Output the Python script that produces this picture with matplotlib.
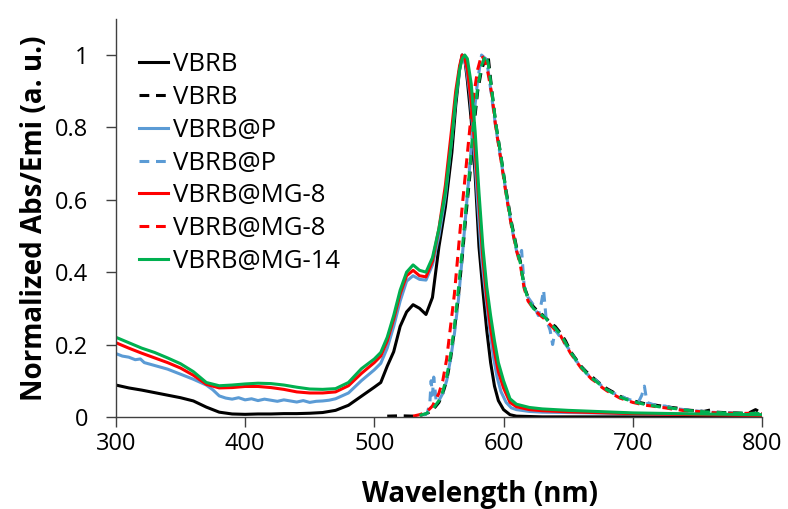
import numpy as np
import matplotlib
matplotlib.use("Agg")
import matplotlib.pyplot as plt

plt.rcParams['font.family'] = ['Open Sans', 'DejaVu Sans']

# absorption (solid lines), nm
abs_wl = [300, 310, 320, 330, 340, 350, 360, 370, 380, 390, 400, 410, 420, 430, 440,
          450, 460, 470, 480, 490, 500, 505, 510, 515, 520, 525, 530, 535, 540, 545,
          550, 555, 560, 563, 566, 568, 570, 572, 575, 578, 581, 584, 587, 590, 593,
          596, 600, 605, 610, 620, 630, 650, 700, 750, 800]
vbrb_abs = [0.088, 0.080, 0.074, 0.067, 0.060, 0.053, 0.044, 0.027, 0.013, 0.008, 0.007,
            0.008, 0.008, 0.009, 0.009, 0.010, 0.012, 0.018, 0.032, 0.057, 0.082, 0.095,
            0.14, 0.18, 0.25, 0.29, 0.31, 0.30, 0.283, 0.33, 0.47, 0.58, 0.73, 0.86, 0.96,
            1.0, 0.99, 0.93, 0.82, 0.67, 0.47, 0.35, 0.24, 0.15, 0.085, 0.045, 0.02, 0.006,
            0.002, 0.001, 0.0, 0.0, 0.0, 0.0, 0.0]
mg8_abs = [0.205, 0.190, 0.176, 0.163, 0.150, 0.135, 0.115, 0.090, 0.080, 0.081, 0.084,
           0.084, 0.081, 0.076, 0.069, 0.066, 0.066, 0.069, 0.086, 0.120, 0.150, 0.168,
           0.21, 0.27, 0.34, 0.39, 0.405, 0.39, 0.387, 0.43, 0.52, 0.64, 0.80, 0.90, 0.97,
           1.0, 0.99, 0.96, 0.87, 0.74, 0.59, 0.44, 0.33, 0.245, 0.18, 0.125, 0.08, 0.04,
           0.028, 0.02, 0.017, 0.014, 0.009, 0.006, 0.004]
mg14_abs = [0.220, 0.205, 0.190, 0.178, 0.163, 0.147, 0.125, 0.095, 0.086, 0.088, 0.091,
            0.093, 0.092, 0.088, 0.082, 0.077, 0.076, 0.078, 0.095, 0.133, 0.160, 0.178,
            0.22, 0.28, 0.35, 0.40, 0.42, 0.405, 0.40, 0.44, 0.52, 0.62, 0.77, 0.88, 0.96,
            0.99, 1.0, 0.99, 0.92, 0.79, 0.62, 0.47, 0.36, 0.28, 0.21, 0.15, 0.10, 0.05,
            0.035, 0.026, 0.022, 0.018, 0.011, 0.008, 0.006]

p_abs_wl = [300, 305, 310, 315, 319, 322, 330, 340, 350, 360, 370, 375, 380, 385, 390,
            395, 400, 405, 410, 415, 420, 425, 430, 435, 440, 445, 450, 455, 460, 465,
            470, 480, 490, 500, 505, 510, 515, 520, 525, 530, 535, 540, 545, 550, 555,
            560, 563, 566, 568, 571, 574, 577, 580, 583, 586, 589, 592, 595, 598, 602,
            606, 610, 620, 630, 650, 700, 750, 800]
p_abs = [0.175, 0.168, 0.165, 0.158, 0.160, 0.150, 0.142, 0.132, 0.118, 0.104, 0.088,
         0.075, 0.058, 0.052, 0.049, 0.053, 0.047, 0.050, 0.045, 0.049, 0.046, 0.043,
         0.047, 0.044, 0.041, 0.045, 0.040, 0.043, 0.044, 0.046, 0.050, 0.066, 0.100,
         0.130, 0.148, 0.19, 0.25, 0.32, 0.375, 0.39, 0.38, 0.378, 0.42, 0.50, 0.61,
         0.77, 0.88, 0.96, 1.0, 0.97, 0.89, 0.76, 0.59, 0.44, 0.34, 0.25, 0.17, 0.11,
         0.07, 0.04, 0.025, 0.02, 0.015, 0.013, 0.012, 0.009, 0.007, 0.006]

# emission (dashed lines)
em_wl = [510, 520, 530, 535, 540, 545, 550, 553, 556, 559, 562, 565, 568, 571, 574, 577,
         580, 583, 586, 588, 591, 594, 598, 602, 606, 610, 613, 616, 619, 623, 627, 632,
         636, 640, 644, 648, 652, 656, 660, 664, 668, 672, 676, 680, 685, 690, 695, 700,
         705, 710, 715, 720, 725, 730, 735, 740, 745, 750, 755, 760, 765, 770, 775, 780,
         785, 790, 795, 800]
nan = np.nan
vbrb_em = [0.002, 0.003, 0.002, 0.004, 0.008, 0.018, 0.04, 0.065, 0.10, 0.16, 0.24, 0.33,
           0.44, 0.56, 0.67, 0.80, 0.90, 0.96, 0.99, 1.0, 0.90, 0.81, 0.72, 0.625, 0.54,
           0.47, 0.43, 0.36, 0.33, 0.305, 0.29, 0.277, 0.26, 0.25, 0.232, 0.21, 0.18,
           0.16, 0.14, 0.125, 0.112, 0.10, 0.088, 0.078, 0.068, 0.057, 0.05, 0.045, 0.04,
           0.036, 0.034, 0.031, 0.029, 0.026, 0.024, 0.02, 0.018, 0.017, 0.015, 0.019,
           0.013, 0.012, 0.012, 0.011, 0.01, 0.011, 0.02, 0.01]
mg8_em = [nan, nan, 0.002, 0.006, 0.012, 0.03, 0.065, 0.10, 0.16, 0.25, 0.34, 0.46, 0.58,
          0.69, 0.80, 0.89, 0.96, 1.0, 0.98, 0.95, 0.89, 0.80, 0.71, 0.615, 0.53, 0.46,
          0.42, 0.355, 0.32, 0.30, 0.285, 0.27, 0.255, 0.24, 0.225, 0.20, 0.175, 0.155,
          0.135, 0.12, 0.105, 0.095, 0.082, 0.072, 0.062, 0.052, 0.046, 0.04, 0.036,
          0.032, 0.03, 0.027, 0.025, 0.022, 0.02, 0.017, 0.016, 0.015, 0.013, 0.012,
          0.011, 0.011, 0.01, 0.01, 0.009, 0.01, 0.009, 0.008]
mg14_em = [nan, nan, nan, 0.004, 0.009, 0.02, 0.045, 0.07, 0.11, 0.17, 0.25, 0.35, 0.46,
           0.58, 0.69, 0.82, 0.91, 0.97, 1.0, 0.98, 0.90, 0.81, 0.72, 0.62, 0.535, 0.465,
           0.425, 0.36, 0.325, 0.30, 0.288, 0.275, 0.258, 0.245, 0.228, 0.205, 0.178,
           0.158, 0.138, 0.122, 0.108, 0.097, 0.085, 0.075, 0.065, 0.055, 0.048, 0.043,
           0.038, 0.034, 0.031, 0.028, 0.026, 0.024, 0.022, 0.019, 0.017, 0.016, 0.014,
           0.013, 0.012, 0.011, 0.011, 0.01, 0.01, 0.009, 0.01, 0.008]

p_em_wl = [538, 541, 543, 544, 545, 546, 548, 550, 553, 556, 559, 562, 565, 568, 571, 574,
           577, 580, 583, 586, 588, 591, 594, 598, 602, 606, 610, 612, 614, 616, 619, 623,
           627, 629, 631, 633, 636, 638, 640, 644, 648, 652, 656, 660, 664, 668, 672, 676,
           680, 685, 690, 695, 700, 705, 707, 709, 711, 715, 720, 725, 730, 735, 740, 745,
           750, 755, 760, 765, 770, 775, 780, 785, 790, 795, 800]
p_em = [0.005, 0.01, 0.04, 0.10, 0.06, 0.11, 0.04, 0.045, 0.065, 0.10, 0.16, 0.23, 0.32,
        0.44, 0.57, 0.70, 0.83, 0.93, 1.0, 0.99, 0.96, 0.88, 0.80, 0.71, 0.62, 0.53, 0.46,
        0.44, 0.46, 0.36, 0.33, 0.31, 0.28, 0.31, 0.35, 0.27, 0.24, 0.20, 0.24, 0.22, 0.20,
        0.18, 0.155, 0.14, 0.12, 0.11, 0.10, 0.085, 0.075, 0.065, 0.06, 0.05, 0.045, 0.045,
        0.06, 0.085, 0.04, 0.035, 0.03, 0.03, 0.025, 0.022, 0.02, 0.018, 0.016, 0.015,
        0.013, 0.012, 0.011, 0.012, 0.01, 0.01, 0.009, 0.01, 0.008]

black, blue, red, green = '#000000', '#5B9BD5', '#FF0000', '#00B050'
dash = (0, (3.2, 2.2))
lw = 2.2

fig = plt.figure(figsize=(7.88, 5.09), dpi=100)
ax = fig.add_axes([0.147, 0.181, 0.82, 0.782])

ax.plot(abs_wl, vbrb_abs, color=black, lw=lw, label='VBRB')
ax.plot(em_wl, vbrb_em, color=black, lw=lw, ls=dash, label='VBRB')
ax.plot(p_abs_wl, p_abs, color=blue, lw=lw, label='VBRB@P')
ax.plot(p_em_wl, p_em, color=blue, lw=lw, ls=dash, label='VBRB@P')
ax.plot(abs_wl, mg8_abs, color=red, lw=lw, label='VBRB@MG-8')
ax.plot(em_wl, mg8_em, color=red, lw=lw, ls=dash, label='VBRB@MG-8')
ax.plot(abs_wl, mg14_abs, color=green, lw=lw, label='VBRB@MG-14')
ax.plot(em_wl, mg14_em, color=green, lw=lw, ls=dash, label='_nolegend_')

ax.set_xlim(300, 800)
ax.set_ylim(0, 1.1)
ax.set_xticks([300, 400, 500, 600, 700, 800])
ax.set_yticks([0, 0.2, 0.4, 0.6, 0.8, 1.0])
ax.set_yticklabels(['0', '0.2', '0.4', '0.6', '0.8', '1'])
for s in ['top', 'right']:
    ax.spines[s].set_visible(False)
for s in ['left', 'bottom']:
    ax.spines[s].set_color('#404040')
    ax.spines[s].set_linewidth(1.0)
ax.tick_params(direction='out', length=7, width=1.0, color='#404040', labelsize=17)
ax.tick_params(axis='x', pad=4)
ax.tick_params(axis='y', pad=13)

ax.set_xlabel('Wavelength (nm)', fontsize=20, fontweight='bold', labelpad=17, x=0.563)
ax.set_ylabel('Normalized Abs/Emi (a. u.)', fontsize=20, fontweight='bold', labelpad=4)

ax.legend(loc='upper left', bbox_to_anchor=(0.176, 0.897), bbox_transform=fig.transFigure,
          frameon=False, fontsize=18.5, handlelength=1.15, handletextpad=0.2,
          labelspacing=0.3, borderaxespad=0, borderpad=0)

fig.savefig('out.png', dpi=100)
